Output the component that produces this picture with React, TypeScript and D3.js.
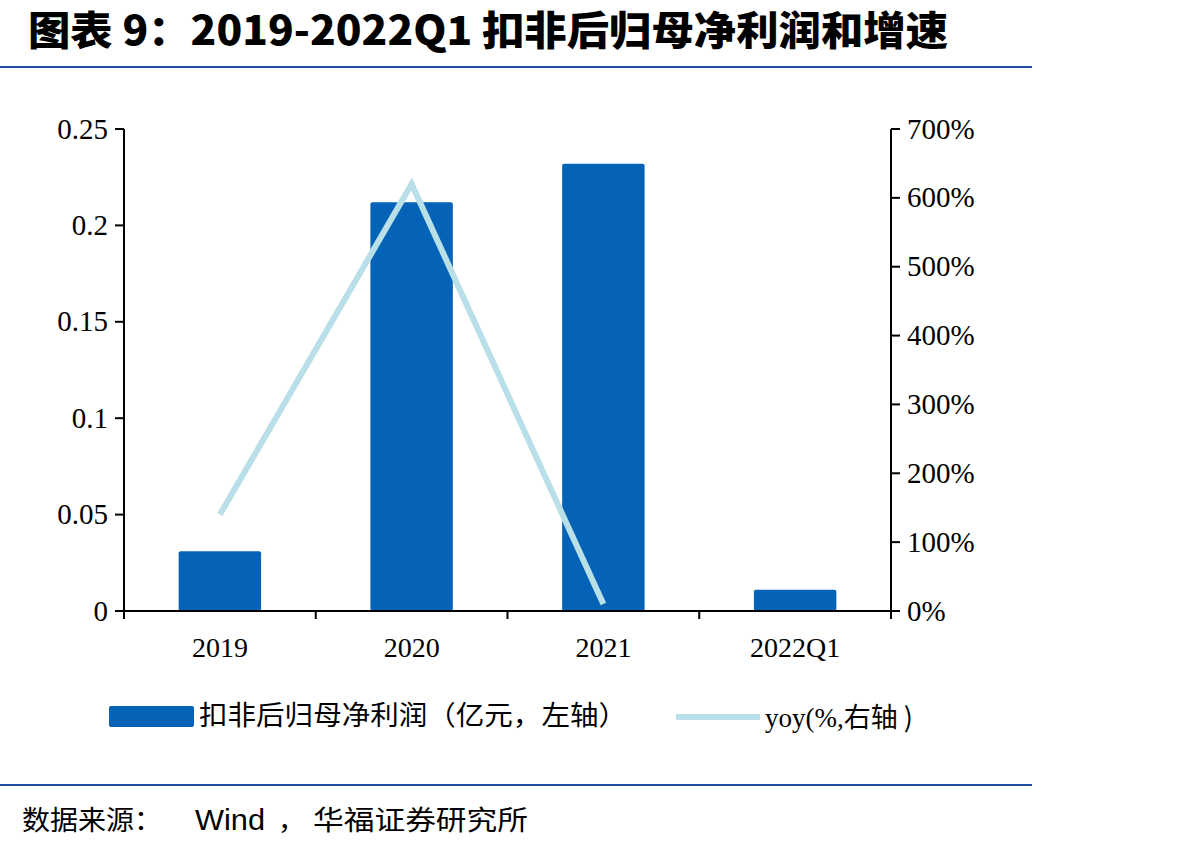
import React from "react";
import * as d3 from "d3";

const categories = ["2019", "2020", "2021", "2022Q1"];
const profitValues = [0.031, 0.212, 0.232, 0.011];
const yoyCategories = ["2019", "2020", "2021"];
const yoyValues = [140, 620, 10];
const leftTicks = [0, 0.05, 0.1, 0.15, 0.2, 0.25];
const leftTickLabels = ["0", "0.05", "0.1", "0.15", "0.2", "0.25"];
const rightTicks = [0, 100, 200, 300, 400, 500, 600, 700];
const rightTickLabels = ["0%", "100%", "200%", "300%", "400%", "500%", "600%", "700%"];

const W = 1189;
const H = 850;
const left = 124;
const right = 891;
const top = 129;
const bottom = 611;
const BAR = "#0563b7";
const LINE = "#b9dfe8";
const SERIF = "'Liberation Serif', 'Times New Roman', serif";
const SANS = "'Noto Sans CJK SC', 'Liberation Sans', sans-serif";

export default function App() {
  const x = d3.scaleBand<string>().domain(categories).range([left, right]).paddingInner(0.57).paddingOuter(0.285);
  const xs = d3.scaleBand<string>().domain(categories).range([left, right]);
  const yL = d3.scaleLinear().domain([0, 0.25]).range([bottom, top]);
  const yR = d3.scaleLinear().domain([0, 700]).range([bottom, top]);
  const line = d3
    .line<number>()
    .x((_, i) => (xs(yoyCategories[i]) as number) + xs.bandwidth() / 2)
    .y((d) => yR(d));
  const bounds = categories.map((c) => xs(c) as number).concat([right]);

  return (
    <svg width={W} height={H} style={{ position: "absolute", left: 0, top: 0, background: "#fff" }}>
      <rect x={0} y={0} width={W} height={H} fill="#fff" />
      <text
        x={28}
        y={45}
        fontFamily={SANS}
        fontWeight={900}
        fontSize={40}
        fill="#000"
        textLength={920}
        lengthAdjust="spacingAndGlyphs"
      >
        图表 9：2019-2022Q1 扣非后归母净利润和增速
      </text>
      <line x1={0} x2={1032} y1={67} y2={67} stroke="#1f4e9c" strokeWidth={2} />

      {categories.map((c, i) => (
        <rect
          key={c}
          x={x(c)}
          y={yL(profitValues[i])}
          width={x.bandwidth()}
          height={bottom - yL(profitValues[i])}
          fill={BAR}
          rx={2}
        />
      ))}
      <path d={line(yoyValues) || ""} fill="none" stroke={LINE} strokeWidth={6} />

      {/* left axis */}
      <line x1={left} x2={left} y1={top} y2={bottom + 8} stroke="#000" strokeWidth={2} />
      {leftTicks.map((t, i) => (
        <g key={t}>
          <line x1={left - 9} x2={left} y1={yL(t)} y2={yL(t)} stroke="#000" strokeWidth={2} />
          <text x={left - 16} y={yL(t)} dy="0.33em" textAnchor="end" fontFamily={SERIF} fontSize={29} fill="#000">
            {leftTickLabels[i]}
          </text>
        </g>
      ))}
      {/* right axis */}
      <line x1={right} x2={right} y1={top} y2={bottom + 8} stroke="#000" strokeWidth={2} />
      {rightTicks.map((t, i) => (
        <g key={t}>
          <line x1={right} x2={right + 9} y1={yR(t)} y2={yR(t)} stroke="#000" strokeWidth={2} />
          <text x={right + 16} y={yR(t)} dy="0.33em" fontFamily={SERIF} fontSize={29} fill="#000">
            {rightTickLabels[i]}
          </text>
        </g>
      ))}
      {/* x axis */}
      <line x1={left - 9} x2={right} y1={bottom} y2={bottom} stroke="#000" strokeWidth={2} />
      {bounds.map((b, i) => (
        <line key={i} x1={b} x2={b} y1={bottom} y2={bottom + 8} stroke="#000" strokeWidth={2} />
      ))}
      {categories.map((c) => (
        <text
          key={c}
          x={(xs(c) as number) + xs.bandwidth() / 2}
          y={657}
          textAnchor="middle"
          fontFamily={SERIF}
          fontSize={28}
          fill="#000"
        >
          {c}
        </text>
      ))}

      {/* legend */}
      <rect x={109} y={706} width={85} height={21} fill={BAR} rx={2} />
      <text
        x={199}
        y={725}
        fontFamily={SANS}
        fontSize={27}
        fill="#000"
        textLength={428}
        lengthAdjust="spacingAndGlyphs"
      >
        扣非后归母净利润（亿元，左轴）
      </text>
      <line x1={676} x2={760} y1={717} y2={717} stroke={LINE} strokeWidth={6} />
      <text x={765} y={727} fontSize={27} fill="#000">
        <tspan fontFamily={SERIF}>yoy(%,</tspan>
        <tspan fontFamily={SANS}>右轴 )</tspan>
      </text>

      <line x1={0} x2={1032} y1={785} y2={785} stroke="#1f4e9c" strokeWidth={2} />
      <text y={830} fontSize={27} fill="#000">
        <tspan x={22} fontFamily={SANS} textLength={140} lengthAdjust="spacingAndGlyphs">数据来源：</tspan>
        <tspan x={195} fontFamily="'Liberation Sans', sans-serif" fontSize={29} textLength={70} lengthAdjust="spacingAndGlyphs">Wind</tspan>
        <tspan x={278} fontFamily={SANS}>，</tspan>
        <tspan x={313} fontFamily={SANS} textLength={215} lengthAdjust="spacingAndGlyphs">华福证券研究所</tspan>
      </text>
    </svg>
  );
}
